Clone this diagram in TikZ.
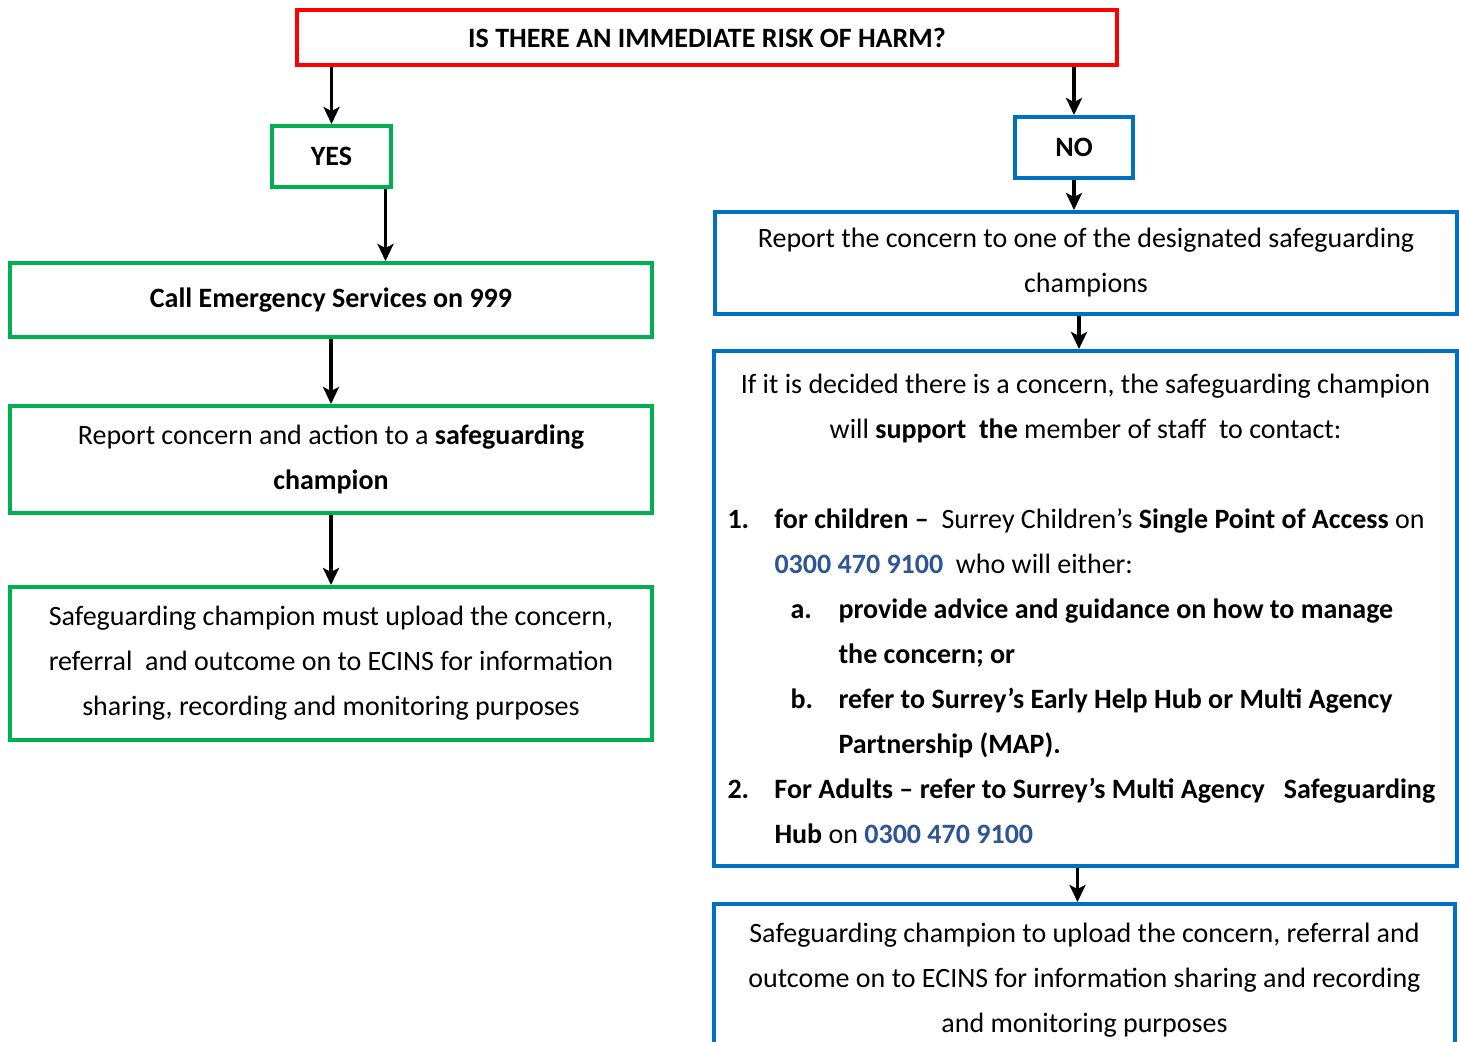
\documentclass[tikz,border=0pt]{standalone}
\usepackage{fontspec}
\setmainfont{Carlito}
\usetikzlibrary{arrows.meta, positioning, calc}
\definecolor{cred}{HTML}{FF0000}
\definecolor{cgreen}{HTML}{00B050}
\definecolor{cblue}{HTML}{0070C0}
\definecolor{cphone}{HTML}{2F5597}
\tikzset{
  every picture/.style={font=\fontsize{14pt}{22.5pt}\selectfont},
  box/.style={draw=#1, line width=2pt, fill=white, align=center, inner sep=0pt},
  box/.default=cblue,
  arrow/.style={-{Stealth[length=8.5pt, width=8pt, inset=2pt]}, draw=black, line width=1.6pt},
}
\newcommand{\phone}[1]{\textcolor{cphone}{\textbf{#1}}}

\begin{document}
\begin{tikzpicture}[x=0.5pt, y=-0.5pt]
  \useasboundingbox (0,0) rectangle (1459,1041);
  \node[box=cred, minimum width=410pt, minimum height=27.5pt] (ask) at (707,37.5)
    {\textbf{IS THERE AN IMMEDIATE RISK OF HARM?}};
  \node[box=cgreen, minimum width=59.5pt, minimum height=30.5pt] (yes) at (331.5,156.5) {\textbf{YES}};
  \node[box=cblue, minimum width=59pt, minimum height=30.5pt] (no) at (1074,147.5) {\textbf{NO}};
  % yes branch
  \node[box=cgreen, minimum width=321pt, minimum height=37pt] (call) at (331,300)
    {\textbf{Call Emergency Services on 999}};
  \node[box=cgreen, minimum width=321pt, minimum height=53.5pt] (reportL) at (331,459.5)
    {Report concern and action to a \textbf{safeguarding}\\ \textbf{champion}};
  \node[box=cgreen, minimum width=321pt, minimum height=76.5pt] (uploadL) at (331,663.5)
    {Safeguarding champion must upload the concern,\\ referral\ \ and outcome on to ECINS for information\\ sharing, recording and monitoring purposes};
  % no branch
  \node[box=cblue, minimum width=371pt, minimum height=51pt] (reportR) at (1086,263)
    {Report the concern to one of the designated safeguarding\\ champions};
  \node[box=cblue, minimum width=371.5pt, minimum height=257.5pt] (contact) at (1085.5,608.5)
    {\parbox{358pt}{\centering
      If it is decided there is a concern, the safeguarding champion\\
      will \textbf{support\ \ the} member\ of staff\ \ to contact:\par
      \vspace{22.5pt}\raggedright
      \makebox[23.5pt][l]{\textbf{1.}}\textbf{for children –}\ \ Surrey Children’s \textbf{Single Point of Access} on\\
      \hspace*{23.5pt}\phone{0300 470 9100}\ \ who will either:\\
      \hspace*{31.5pt}\makebox[24pt][l]{\textbf{a.}}\textbf{provide advice and guidance on how to manage}\\
      \hspace*{55.5pt}\textbf{the concern; or}\\
      \hspace*{31.5pt}\makebox[24pt][l]{\textbf{b.}}\textbf{refer to Surrey’s Early Help Hub or Multi Agency}\\
      \hspace*{55.5pt}\textbf{Partnership (MAP).}\\
      \makebox[23.5pt][l]{\textbf{2.}}\textbf{For Adults – refer to Surrey’s Multi Agency\ \ \ Safeguarding}\\
      \hspace*{23.5pt}\textbf{Hub} on \phone{0300 470 9100}}};
  \node[box=cblue, minimum width=370.5pt, minimum height=76pt] (uploadR) at (1084.5,980)
    {Safeguarding champion to upload the concern, referral and\\ outcome\ on to ECINS for information sharing and recording\\ and monitoring purposes};
  % connectors
  \draw[arrow] (ask.south -| yes.north) -- (yes.north);
  \draw[arrow] (ask.south -| no.north) -- (no.north);
  \draw[arrow] ([xshift=27pt]yes.south) -- ([xshift=27pt]yes.south |- call.north);
  \draw[arrow] (call.south) -- (reportL.north);
  \draw[arrow] (reportL.south) -- (uploadL.north);
  \draw[arrow] (no.south) -- (no.south |- reportR.north);
  \draw[arrow] ([xshift=-3.5pt]reportR.south) -- ([xshift=-3.5pt]reportR.south |- contact.north);
  \draw[arrow] ([xshift=-4pt]contact.south) -- ([xshift=-4pt]contact.south |- uploadR.north);
\end{tikzpicture}
\end{document}
